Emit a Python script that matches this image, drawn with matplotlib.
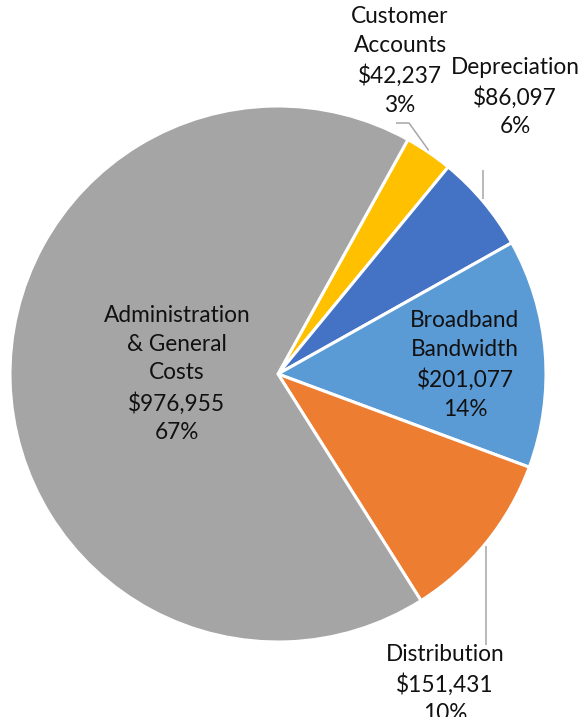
import numpy as np
import matplotlib
matplotlib.use("Agg")
import matplotlib.pyplot as plt

# Expense breakdown
categories = ["Customer\nAccounts", "Depreciation", "Broadband\nBandwidth",
              "Distribution", "Administration\n& General\nCosts"]
values = [42237, 86097, 201077, 151431, 976955]
colors = ["#FFC000", "#4472C4", "#5B9BD5", "#ED7D31", "#A5A5A5"]

W, H = 588, 717
fig = plt.figure(figsize=(W / 100, H / 100), dpi=100)
ax = fig.add_axes([0, 0, 1, 1])

cx, cy, r = 278, H - 374, 268
wedges, _ = ax.pie(values, colors=colors, startangle=61, counterclock=False,
                   center=(cx, cy), radius=r, frame=True,
                   wedgeprops=dict(edgecolor="white", linewidth=2.2))
ax.set_xlim(0, W)
ax.set_ylim(0, H)
ax.set_aspect("equal")
ax.axis("off")

total = sum(values)
font = dict(family=["Lato", "DejaVu Sans"], fontsize=16.3, color="#111111",
            ha="center", va="center", linespacing=1.45)

# label placement: (x, y) in pixels from top-left, and leader-line style
label_pos = [(400, 61), (515, 97), (465, 365), (445, 684), (177, 374)]
leaders = ["elbow", "vertical", None, "vertical", None]

for w, cat, val, (lx, ly), lead in zip(wedges, categories, values, label_pos, leaders):
    txt = f"{cat}\n${val:,}\n{val / total:.0%}"
    ax.text(lx, H - ly, txt, **font)
    if lead is None:
        continue
    mid = np.deg2rad((w.theta1 + w.theta2) / 2)
    ex, ey = cx + r * np.cos(mid), cy + r * np.sin(mid)
    if lead == "elbow":
        xs = [lx - 4, lx + 9, ex]
        ys = [H - 123, H - 123, ey + 2]
    elif ey > cy:
        xs = [ex, ex]
        ys = [H - 170, ey + 3]
    else:
        xs = [ex, ex]
        ys = [ey - 3, H - 645]
    ax.plot(xs, ys, color="#A6A6A6", lw=1.1, solid_capstyle="butt")

fig.savefig("out.png", dpi=100)
